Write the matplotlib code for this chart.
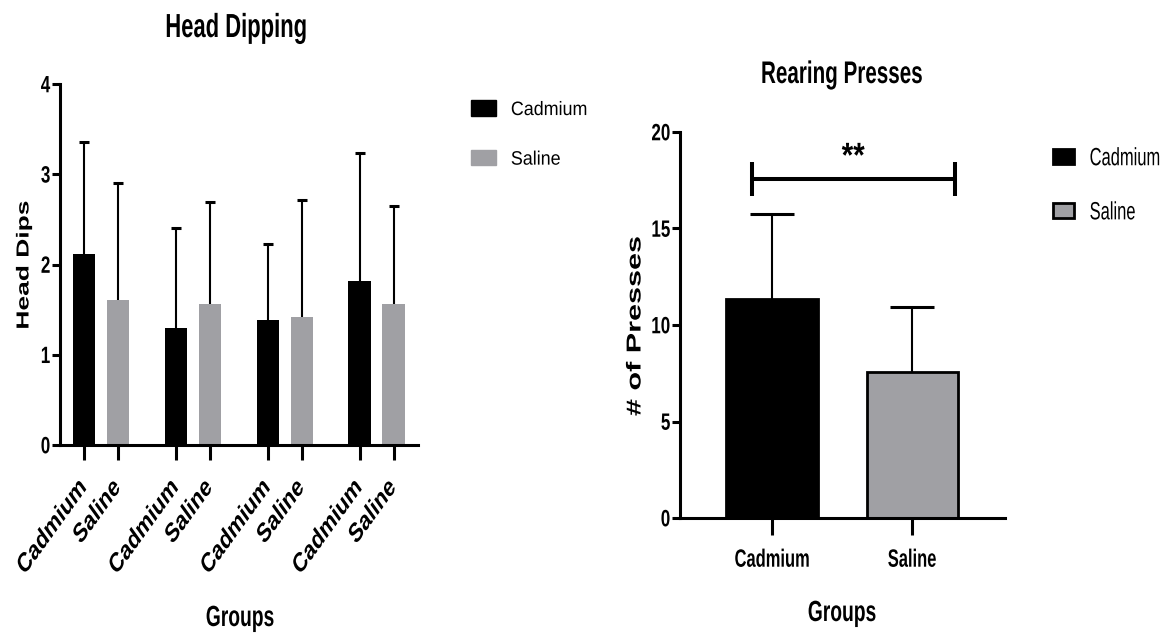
import matplotlib
matplotlib.use("Agg")
import matplotlib.pyplot as plt
from matplotlib.patheffects import AbstractPathEffect
from matplotlib.transforms import Affine2D
from matplotlib.patches import Patch

# ---- data -------------------------------------------------------------
groups = ["Cadmium", "Saline"]

# Head dipping: four trials, mean and SD per group
dip_cadmium_mean = [2.12, 1.30, 1.38, 1.82]
dip_cadmium_sd = [1.24, 1.10, 0.85, 1.42]
dip_saline_mean = [1.61, 1.56, 1.42, 1.56]
dip_saline_sd = [1.29, 1.13, 1.29, 1.09]
dip_yticks = [0, 1, 2, 3, 4]

# Rearing presses: mean and SD per group
press_mean = [11.35, 7.56]
press_sd = [4.40, 3.37]
press_yticks = [0, 5, 10, 15, 20]
significance = "**"

BLACK = "#000000"
GREY = "#A0A0A4"
FONT = "Liberation Sans"

W, H = 1171, 633


class Stretch(AbstractPathEffect):
    """Stretch glyphs vertically (display space) about an anchor point,
    which gives a condensed look to text set at a smaller size."""

    def __init__(self, sy, xanchor="center", yanchor="center"):
        super().__init__()
        self.sy = sy
        self.xanchor = xanchor
        self.yanchor = yanchor

    def draw_path(self, renderer, gc, tpath, affine, rgbFace=None):
        ext = tpath.get_extents()
        px = {"left": ext.x0, "right": ext.x1}.get(
            self.xanchor, 0.5 * (ext.x0 + ext.x1))
        py = {"baseline": 0.0, "top": ext.y1, "bottom": ext.y0}.get(
            self.yanchor, 0.5 * (ext.y0 + ext.y1))
        ax_, ay_ = affine.transform((px, py))
        st = (Affine2D().translate(-ax_, -ay_)
              .scale(1.0, self.sy).translate(ax_, ay_))
        renderer.draw_path(gc, tpath, affine + st, rgbFace)


def condense(text, squeeze, xanchor="center", yanchor="center"):
    """Set text at `squeeze` of its size and stretch it back vertically."""
    text.set_fontsize(text.get_fontsize() * squeeze)
    text.set_path_effects([Stretch(1.0 / squeeze, xanchor, yanchor)])
    return text


def fx(px):
    return px / W


def fy(py):
    return 1 - py / H


def ftext(x, y, s, size, squeeze=0.66, yanchor="baseline", weight="bold",
          ha="center", va="baseline", **kw):
    t = fig.text(fx(x), fy(y), s, fontsize=size, fontweight=weight,
                 family=FONT, ha=ha, va=va, **kw)
    return condense(t, squeeze, "center", yanchor)


def style_axes(ax, ytick_len, xtick_len):
    for side in ("top", "right"):
        ax.spines[side].set_visible(False)
    for side in ("left", "bottom"):
        ax.spines[side].set_linewidth(2.2)
        ax.spines[side].set_capstyle("projecting")
    ax.tick_params(axis="y", direction="out", length=ytick_len, width=2.2,
                   pad=1.5)
    ax.tick_params(axis="x", direction="out", length=xtick_len, width=2.2)


def sd_bars(ax, xs, means, sds, cap, lw=1.5, cap_lw=2.2):
    tops = [m + s for m, s in zip(means, sds)]
    ax.vlines(xs, means, tops, color=BLACK, lw=lw, zorder=3)
    ax.plot(xs, tops, ls="none", marker="_", ms=cap, mew=cap_lw,
            color=BLACK, zorder=3)


fig = plt.figure(figsize=(W / 100, H / 100), dpi=100)

# ---- Head Dipping -----------------------------------------------------
ax1 = fig.add_axes([fx(60), fy(445), fx(418 - 60), (445 - 84) / H])
pair_step = 2.7
cad_x = [i * pair_step for i in range(len(dip_cadmium_mean))]
sal_x = [x + 1 for x in cad_x]
bw = 0.65
ax1.bar(cad_x, dip_cadmium_mean, width=bw, color=BLACK, zorder=2)
ax1.bar(sal_x, dip_saline_mean, width=bw, color=GREY, zorder=2)
sd_bars(ax1, cad_x, dip_cadmium_mean, dip_cadmium_sd, cap=7.5)
sd_bars(ax1, sal_x, dip_saline_mean, dip_saline_sd, cap=7.5)
ax1.set_xlim(-0.706, 9.82)
ax1.set_ylim(0, 4)
style_axes(ax1, ytick_len=5.5, xtick_len=10.8)
ax1.set_yticks(dip_yticks)
ax1.set_yticklabels([str(v) for v in dip_yticks], fontsize=17,
                    fontweight="bold", family=FONT)
xt = sorted(cad_x + sal_x)
ax1.set_xticks(xt)
ax1.set_xticklabels(groups * len(cad_x), rotation=45, ha="right",
                    va="center", rotation_mode="anchor", fontsize=19.5,
                    fontweight="bold", family=FONT)
ax1.tick_params(axis="x", pad=17)
for lab in ax1.get_xticklabels():
    condense(lab, 0.72, "right", "center")
for lab in ax1.get_yticklabels():
    condense(lab, 0.72, "right", "center")

leg1 = ax1.legend(handles=[Patch(color=BLACK, label=groups[0]),
                           Patch(color=GREY, label=groups[1])],
                  loc="upper left", bbox_to_anchor=(fx(471), fy(100)),
                  bbox_transform=fig.transFigure, frameon=False,
                  prop={"family": FONT, "size": 14},
                  handlelength=1.3, handleheight=0.85, handletextpad=0.75,
                  labelspacing=1.6, borderpad=0, borderaxespad=0)
for t in leg1.get_texts():
    t.set_path_effects([Stretch(1.0 / 0.92, "left", "center")])
    t.set_fontsize(14 * 0.92)

ftext(236, 37, "Head Dipping", 24)
ftext(240, 626, "Groups", 21)
ftext(24, 265, "Head Dips", 19, yanchor="center", rotation=90, va="center")

# ---- Rearing Presses --------------------------------------------------
ax2 = fig.add_axes([fx(680), fy(518), fx(1005 - 680), (518 - 132) / H])
px = list(range(len(press_mean)))
ax2.bar(px, press_mean, width=0.65, color=[BLACK, GREY],
        edgecolor=BLACK, linewidth=2, zorder=2)
sd_bars(ax2, px, press_mean, press_sd, cap=32)
ax2.set_xlim(-0.657, 1.664)
ax2.set_ylim(0, 20)
style_axes(ax2, ytick_len=5.5, xtick_len=12)
ax2.set_yticks(press_yticks)
ax2.set_yticklabels([str(v) for v in press_yticks], fontsize=17,
                    fontweight="bold", family=FONT)
ax2.set_xticks(px)
ax2.set_xticklabels(groups, fontsize=18, fontweight="bold", family=FONT)
ax2.tick_params(axis="x", pad=10)
for lab in ax2.get_xticklabels():
    condense(lab, 0.66, "center", "top")
for lab in ax2.get_yticklabels():
    condense(lab, 0.72, "right", "center")

# significance bracket
x_l, x_r, y_b, half = -0.143, 1.307, 17.56, 0.88
ax2.plot([x_l, x_r], [y_b, y_b], color=BLACK, lw=2.9, clip_on=False,
         solid_capstyle="butt")
ax2.vlines([x_l, x_r], y_b - half, y_b + half, color=BLACK, lw=2.9,
           clip_on=False)
star = ax2.text(0.58, 18.75, significance, ha="center", va="center",
                fontsize=25, fontweight="bold", family=FONT)
condense(star, 0.85, "center", "center")

leg2 = ax2.legend(handles=[Patch(facecolor=BLACK, edgecolor=BLACK, lw=2,
                                 label=groups[0]),
                           Patch(facecolor=GREY, edgecolor=BLACK, lw=2,
                                 label=groups[1])],
                  loc="upper left", bbox_to_anchor=(fx(1053), fy(149)),
                  bbox_transform=fig.transFigure, frameon=False,
                  prop={"family": FONT, "size": 18 * 0.66},
                  handlelength=1.27, handleheight=1.03, handletextpad=0.95,
                  labelspacing=2.3, borderpad=0, borderaxespad=0)
for t in leg2.get_texts():
    t.set_path_effects([Stretch(1.0 / 0.66, "left", "center")])

ftext(842, 83, "Rearing Presses", 22.5)
ftext(842, 621, "Groups", 21)
ftext(635, 326, "# of Presses", 22, yanchor="center", rotation=90,
      va="center")

fig.savefig("out.png", dpi=100, facecolor="white")
